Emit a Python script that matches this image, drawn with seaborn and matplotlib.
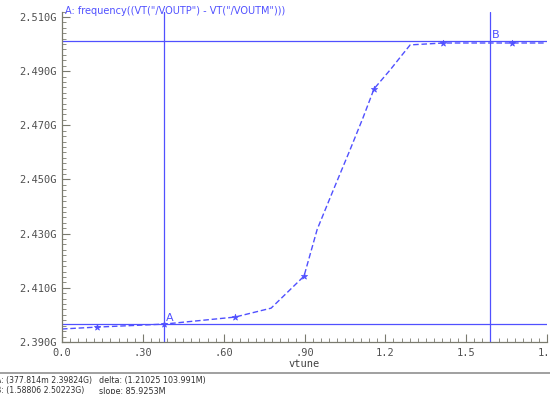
import pandas as pd
import matplotlib
matplotlib.use("Agg")
import matplotlib.pyplot as plt
import seaborn as sns
from matplotlib.ticker import MultipleLocator, FormatStrFormatter

# courbe frequency(VOUTP - VOUTM) en fonction de vtune (GHz)
vtune = [0.0, 0.13, 0.378, 0.642, 0.776, 0.898, 0.947, 1.003, 1.069, 1.117,
         1.158, 1.218, 1.262, 1.292, 1.415, 1.671, 1.797]
freq = [2.3948, 2.3955, 2.3966, 2.3992, 2.4025, 2.4143, 2.4316, 2.4452,
        2.4610, 2.4728, 2.4835, 2.4905, 2.4960, 2.4997, 2.5004, 2.5004, 2.5004]

# marqueurs dessinés sur la courbe
mark_x = [0.13, 0.378, 0.642, 0.898, 1.158, 1.415, 1.671]
mark_y = [2.3955, 2.3966, 2.3992, 2.4143, 2.4835, 2.5004, 2.5004]

# curseurs A et B
cursor_x = [0.3778, 1.58806]
cursor_y = [2.3966, 2.5011]
cursor_names = ["A", "B"]

x_ticks = [0.0, 0.3, 0.6, 0.9, 1.2, 1.5, 1.8]
x_labels = ["0.0", ".30", ".60", ".90", "1.2", "1.5", "1.8"]

title = 'A: frequency((VT("/VOUTP") - VT("/VOUTM")))'
status = [("A: (377.814m 2.39824G)", "delta: (1.21025 103.991M)"),
          ("B: (1.58806 2.50223G)", "slope: 85.9253M")]

sns.set_style("white")
plt.rcParams["font.family"] = ["DejaVu Sans Mono"]

blue = "#5050ff"
grey = "#7a7a6e"

fig = plt.figure(figsize=(5.5, 3.94), dpi=100)
ax = fig.add_axes([0.1127, 0.132, 0.882, 0.8386])

df = pd.DataFrame({"vtune": vtune, "freq": freq})
sns.lineplot(data=df, x="vtune", y="freq", ax=ax, color=blue,
             linestyle=(0, (4, 2)), linewidth=1.0)
sns.scatterplot(x=mark_x, y=mark_y, ax=ax, marker="*", s=22,
                color=blue, edgecolor=blue, linewidth=0.5, zorder=4)

for cx, cy, name in zip(cursor_x, cursor_y, cursor_names):
    ax.axvline(cx, color=blue, linewidth=0.9)
    ax.axhline(cy, color=blue, linewidth=0.9)
    ax.text(cx + 0.008, cy + 0.0004, name, color=blue, fontsize=8,
            fontfamily="DejaVu Sans", va="bottom", ha="left")

ax.set_xlim(0, 1.8)
ax.set_ylim(2.39, 2.512)
ax.set_xticks(x_ticks)
ax.set_xticklabels(x_labels)
ax.xaxis.set_minor_locator(MultipleLocator(0.03))
ax.yaxis.set_minor_locator(MultipleLocator(0.002))
ax.yaxis.set_major_formatter(FormatStrFormatter("%.3fG"))
ax.set_yticks([2.39, 2.41, 2.43, 2.45, 2.47, 2.49, 2.51])

ax.tick_params(which="both", direction="in", color=grey, labelcolor="#505050",
               labelsize=7.5, left=True, bottom=True)
ax.tick_params(which="major", length=6, width=0.8)
ax.tick_params(which="minor", length=3, width=0.6)
ax.tick_params(axis="both", pad=4)

sns.despine(ax=ax)
for side in ["left", "bottom"]:
    ax.spines[side].set_color(grey)
    ax.spines[side].set_linewidth(0.9)

ax.set_xlabel("vtune", fontsize=7.5, color="#404040", labelpad=1)
ax.set_ylabel("")

fig.text(0.118, 0.972, title, color=blue, fontsize=7, fontfamily="DejaVu Sans",
         va="center", ha="left")

# ligne de séparation et barre d'état en bas
fig.add_artist(plt.Line2D([0, 1], [1 - 373 / 394] * 2, color="#909090", linewidth=1.2))
for i, (left_txt, right_txt) in enumerate(status):
    yy = 1 - (381 + 10 * i) / 394
    fig.text(-4 / 550, yy, left_txt, fontsize=5.6, color="#303030",
             fontfamily="DejaVu Sans", va="center", ha="left")
    fig.text(99 / 550, yy, right_txt, fontsize=5.8, color="#303030",
             fontfamily="DejaVu Sans", va="center", ha="left")

fig.savefig("out.png", dpi=100)
